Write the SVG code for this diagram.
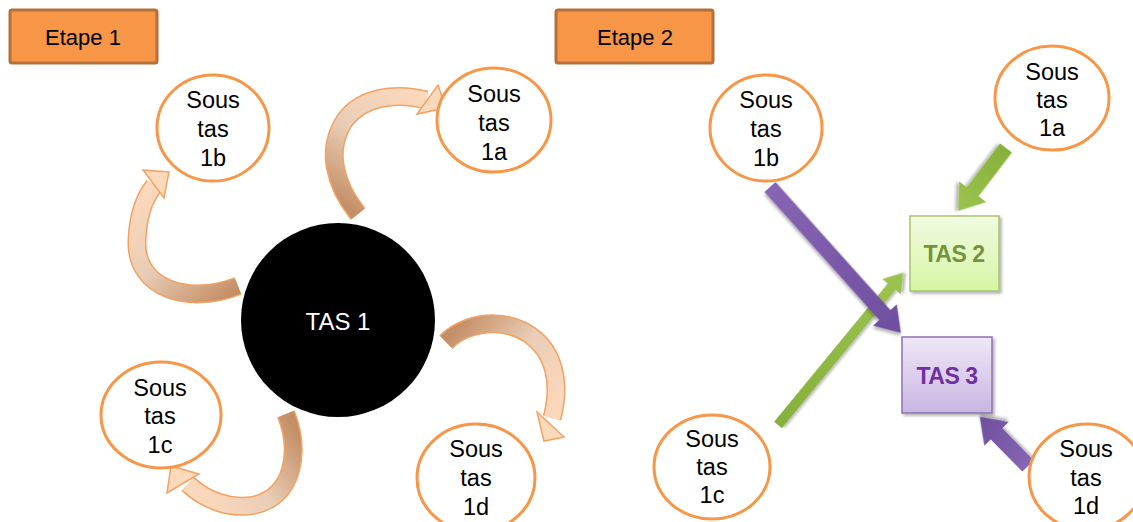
<svg xmlns="http://www.w3.org/2000/svg" width="1133" height="522" viewBox="0 0 1133 522">
<style>
.step{fill:#F79646;stroke:#B5703A;stroke-width:3}
.steptxt{font-family:"Liberation Sans",Arial,sans-serif;font-size:22px;fill:#000;text-anchor:middle}
.sub{fill:#fff;stroke:#F79646;stroke-width:3}
.subtxt{font-family:"Liberation Sans",Arial,sans-serif;font-size:23.5px;fill:#000;text-anchor:middle}
.outl{fill:none;stroke:#F2A263;stroke-width:19;stroke-linecap:butt}
.head{stroke:#F2A263;stroke-width:1.5;stroke-linejoin:miter}
.tas{font-family:"Liberation Sans",Arial,sans-serif;font-size:23px;font-weight:bold;text-anchor:middle;letter-spacing:-0.5px}
</style>
<defs>
<linearGradient id="gGreenBox" x1="0" y1="0" x2="0" y2="1"><stop offset="0" stop-color="#F1FBE1"/><stop offset="1" stop-color="#D6F5A5"/></linearGradient>
<linearGradient id="gPurpleBox" x1="0" y1="0" x2="0" y2="1"><stop offset="0" stop-color="#EFE8F6"/><stop offset="1" stop-color="#C9B5E3"/></linearGradient>
<linearGradient id="gPurple" x1="0" y1="0" x2="1" y2="0"><stop offset="0" stop-color="#8666B3"/><stop offset="1" stop-color="#6E4E9E"/></linearGradient>
<linearGradient id="gGreen" x1="0" y1="0" x2="1" y2="0"><stop offset="0" stop-color="#86B03A"/><stop offset="1" stop-color="#9CC34F"/></linearGradient>
<linearGradient id="ga1" gradientUnits="userSpaceOnUse" x1="238" y1="290" x2="150" y2="180"><stop offset="0" stop-color="#C48E66"/><stop offset="0.5" stop-color="#E9CDB6"/><stop offset="1" stop-color="#FDD9BC"/></linearGradient>
<linearGradient id="ga2" gradientUnits="userSpaceOnUse" x1="358" y1="215" x2="430" y2="95"><stop offset="0" stop-color="#C48E66"/><stop offset="0.5" stop-color="#E9CDB6"/><stop offset="1" stop-color="#FDD9BC"/></linearGradient>
<linearGradient id="ga3" gradientUnits="userSpaceOnUse" x1="446" y1="340" x2="555" y2="420"><stop offset="0" stop-color="#C48E66"/><stop offset="0.5" stop-color="#E9CDB6"/><stop offset="1" stop-color="#FDD9BC"/></linearGradient>
<linearGradient id="ga4" gradientUnits="userSpaceOnUse" x1="286" y1="414" x2="185" y2="482"><stop offset="0" stop-color="#C48E66"/><stop offset="0.5" stop-color="#E9CDB6"/><stop offset="1" stop-color="#FDD9BC"/></linearGradient>
<filter id="sh" x="-20%" y="-20%" width="140%" height="140%"><feDropShadow dx="2" dy="2" stdDeviation="1.5" flood-color="#000" flood-opacity="0.3"/></filter>
</defs>

<g id="etape1"><rect class="step" x="10" y="10" width="147" height="53" rx="2"/><text class="steptxt" x="83" y="45">Etape 1</text></g>
<g id="etape2"><rect class="step" x="556" y="10" width="157" height="53" rx="2"/><text class="steptxt" x="635" y="45">Etape 2</text></g>

<g id="connectors">
 <g id="c1">
  <path class="outl" d="M 238,286 C 190,305 135,290 137,240 C 138,215 145,197 154,186"/>
  <path d="M 238,286 C 190,305 135,290 137,240 C 138,215 145,197 154,186" fill="none" stroke="url(#ga1)" stroke-width="16"/>
  <polygon class="head" fill="#FDD9BC" points="143,170 169,172 164,198"/>
 </g>
 <g id="c2">
  <path class="outl" d="M 358,214 C 335,185 325,150 345,120 C 362,97 395,92 426,100"/>
  <path d="M 358,214 C 335,185 325,150 345,120 C 362,97 395,92 426,100" fill="none" stroke="url(#ga2)" stroke-width="16"/>
  <polygon class="head" fill="#FDD9BC" points="438,85 446,108 417,114"/>
 </g>
 <g id="c3">
  <path class="outl" d="M 446,342 C 470,318 520,315 545,350 C 558,370 558,395 552,418"/>
  <path d="M 446,342 C 470,318 520,315 545,350 C 558,370 558,395 552,418" fill="none" stroke="url(#ga3)" stroke-width="16"/>
  <polygon class="head" fill="#FDD9BC" points="537,412 564,437 544,441"/>
 </g>
 <g id="c4">
  <path class="outl" d="M 286,414 C 300,450 295,495 255,505 C 230,510 205,500 188,484"/>
  <path d="M 286,414 C 300,450 295,495 255,505 C 230,510 205,500 188,484" fill="none" stroke="url(#ga4)" stroke-width="16"/>
  <polygon class="head" fill="#FDD9BC" points="199,474 171,466 167,493"/>
 </g>
 <polygon id="c5" filter="url(#sh)" fill="url(#gGreen)" transform="translate(778,425) rotate(-50.6)" points="0,-5 179,-5 179,-12 197,0 179,12 179,5 0,5"/>
 <polygon id="c6" filter="url(#sh)" fill="url(#gPurple)" transform="translate(770,187) rotate(48.1)" points="0,-7.5 172,-7.5 172,-16 196,0 172,16 172,7.5 0,7.5"/>
 <polygon id="c7" filter="url(#sh)" fill="url(#gGreen)" transform="translate(1006,148) rotate(127.3)" points="0,-7.5 55,-7.5 55,-17 79,0 55,17 55,7.5 0,7.5"/>
 <polygon id="c8" filter="url(#sh)" fill="url(#gPurple)" transform="translate(1028,466) rotate(-134.4)" points="0,-8 45,-8 45,-17 69,0 45,17 45,8 0,8"/>
</g>

<g id="tas1"><circle cx="338" cy="320" r="97" fill="#000"/><text x="338" y="330" font-family="'Liberation Sans',Arial,sans-serif" font-size="24" fill="#fff" text-anchor="middle">TAS 1</text></g>

<g id="e1-1b"><ellipse class="sub" cx="213" cy="128" rx="56" ry="53"/><text class="subtxt" x="213" y="108">Sous</text><text class="subtxt" x="213" y="137">tas</text><text class="subtxt" x="213" y="166">1b</text></g>
<g id="e1-1a"><ellipse class="sub" cx="494" cy="120" rx="57" ry="52"/><text class="subtxt" x="494" y="102">Sous</text><text class="subtxt" x="494" y="131">tas</text><text class="subtxt" x="494" y="160">1a</text></g>
<g id="e1-1c"><ellipse class="sub" cx="161" cy="415" rx="60" ry="53"/><text class="subtxt" x="160" y="396">Sous</text><text class="subtxt" x="160" y="424">tas</text><text class="subtxt" x="160" y="453">1c</text></g>
<g id="e1-1d"><ellipse class="sub" cx="476" cy="478" rx="59" ry="54"/><text class="subtxt" x="476" y="457">Sous</text><text class="subtxt" x="476" y="486">tas</text><text class="subtxt" x="476" y="515">1d</text></g>

<g id="e2-1b"><ellipse class="sub" cx="766" cy="128" rx="56" ry="53"/><text class="subtxt" x="766" y="108">Sous</text><text class="subtxt" x="766" y="137">tas</text><text class="subtxt" x="766" y="166">1b</text></g>
<g id="e2-1a"><ellipse class="sub" cx="1052" cy="98" rx="57" ry="52"/><text class="subtxt" x="1052" y="80">Sous</text><text class="subtxt" x="1052" y="108">tas</text><text class="subtxt" x="1052" y="136">1a</text></g>
<g id="e2-1c"><ellipse class="sub" cx="712" cy="467" rx="58" ry="52"/><text class="subtxt" x="712" y="447">Sous</text><text class="subtxt" x="712" y="475">tas</text><text class="subtxt" x="712" y="503">1c</text></g>
<g id="e2-1d"><ellipse class="sub" cx="1087" cy="477" rx="58" ry="53"/><text class="subtxt" x="1086" y="457">Sous</text><text class="subtxt" x="1086" y="486">tas</text><text class="subtxt" x="1086" y="514">1d</text></g>

<g id="tas2"><rect x="910" y="216" width="89" height="75" fill="url(#gGreenBox)" stroke="#A6C46B" stroke-width="1.5" filter="url(#sh)"/><text class="tas" x="954" y="262" fill="#76933C">TAS 2</text></g>
<g id="tas3"><rect x="902" y="337" width="90" height="76" fill="url(#gPurpleBox)" stroke="#8E72AE" stroke-width="1.5" filter="url(#sh)"/><text class="tas" x="947" y="384" fill="#7030A0">TAS 3</text></g>
</svg>
